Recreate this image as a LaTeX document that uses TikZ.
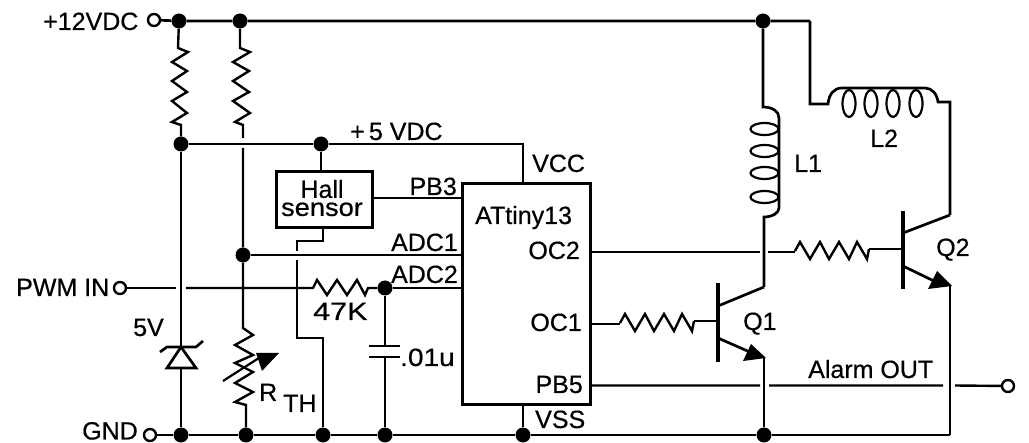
\documentclass[tikz,border=0pt]{standalone}
\usepackage{fontspec}
\usepackage{graphicx}
\setmainfont[FakeBold=0.5]{Liberation Sans}
\tikzset{
  wire/.style={line width=2.7pt,line join=miter},
  thinw/.style={line width=2.4pt,line join=miter},
  dotn/.style={circle,fill=black,inner sep=0pt,minimum size=15pt},
  term/.style={circle,draw=black,line width=2.4pt,fill=white,inner sep=0pt,minimum size=12pt},
  lblw/.style={anchor=base west,inner sep=0pt,font=\fontsize{25}{25}\selectfont},
  lble/.style={anchor=base east,inner sep=0pt,font=\fontsize{25}{25}\selectfont},
  bar/.style={line width=4pt},
  chip/.style={draw=black,line width=2.7pt,fill=none,inner sep=0pt,anchor=north west}
}
\newcommand{\ResH}[1]{\draw[thinw,shift={(#1)}] (0,0) -- (5,-9) -- (15,8) -- (25,-9) -- (34,8) -- (44,-9) -- (54,8) -- (62,-9) -- (72,8) -- (74,-2);}
\newcommand{\Wide}[2]{\scalebox{#1}[1]{#2}}
\begin{document}
\begin{tikzpicture}[x=1pt,y=-1pt]
\useasboundingbox[fill=white] (0,0) rectangle (1029,443);
% terminals
\node[term] (t12) at (154,20) {};
\node[term] (tpwm) at (120,288) {};
\node[term] (tgnd) at (150,435) {};
\node[term] (talarm) at (1008,386) {};
% boxes
\node[chip,minimum width=128pt,minimum height=221pt] (ic) at (461,182) {};
\node[chip,minimum width=96pt,minimum height=56pt] (hall) at (275,170) {};
% junctions
\node[dotn] (d1) at (179,21) {};
\node[dotn] (d2) at (240,21) {};
\node[dotn] (d3) at (763,21) {};
\node[dotn] (d4) at (181,144) {};
\node[dotn] (d5) at (321,144) {};
\node[dotn] (d6) at (243,255) {};
\node[dotn] (d7) at (385,288) {};
\node[dotn] (g1) at (181,435) {};
\node[dotn] (g2) at (246,435) {};
\node[dotn] (g3) at (323,435) {};
\node[dotn] (g4) at (385,435) {};
\node[dotn] (g5) at (523,435) {};
\node[dotn] (g6) at (764,435) {};
% rails
\coordinate (rTopEnd) at (810,21);
\coordinate (rGndEnd) at (950,435);
\coordinate (vcc) at (523,144);
\draw[wire] (t12) -- (d1) -- (d2) -- (d3) -- (rTopEnd);
\draw[wire] (tgnd) -- (g1) -- (g2) -- (g3) -- (g4) -- (g5) -- (g6) -- (rGndEnd);
\draw[wire] (d4) -- (d5) -- (vcc) -- (523,182);
\draw[wire] (523,403) -- (g5);
% R1, R2
\draw[thinw] (d1) -- (178,48) -- (188,52) -- (172,62) -- (187,71) -- (172,81) -- (187,92) -- (172,101) -- (187,113) -- (172,122) -- (181,125) -- (d4);
\draw[thinw] (d2) -- (240,48) -- (250,52) -- (233,62) -- (249,71) -- (233,81) -- (249,92) -- (233,101) -- (250,113) -- (235,122) -- (243,125) -- (243,138);
% thermistor
\draw[thinw] (243,148) -- (d6) -- (243,328) -- (253,335) -- (235,345) -- (253,355) -- (235,363) -- (253,372) -- (235,383) -- (253,392) -- (235,402) -- (246,405) -- (g2);
\draw[line width=2.2pt] (223,381) -- (262,356);
\fill (256,353) -- (279,353) -- (262,371) -- cycle;
% zener
\draw[wire] (d4) -- (181,347) (181,368) -- (g1);
\draw[wire] (181,347) -- (167,368) -- (196,368) -- cycle;
\draw[wire] (160,352) -- (167,347) -- (196,347) -- (203,341);
% PWM line
\coordinate (pg1) at (176,288);
\coordinate (pg2) at (186,288);
\coordinate (rpwm) at (313,288);
\draw[thinw] (tpwm) -- (pg1);
\draw[thinw] (pg2) -- (rpwm) -- (317,280) -- (327,295) -- (337,280) -- (347,295) -- (357,280) -- (365,295) -- (368,288) -- (d7);
% ADC lines
\draw[thinw] (d7) -- (461,288);
\draw[thinw] (d6) -- (461,255);
% capacitor
\draw[wire] (d7) -- (385,346) (385,357) -- (g4);
\draw[wire] (369,346) -- (400,346) (369,357) -- (400,357);
% Hall
\draw[wire] (d5) -- (321,170);
\draw[thinw] (371,198) -- (461,198);
\draw[wire] (323,226) -- (323,241) -- (297,241) -- (297,251);
\draw[wire] (297,260) -- (297,338) -- (323,338) -- (g3);
% L1
\draw[wire] (d3) -- (763,107) .. controls (772,107) and (779,111) .. (779,118) -- (779,208) .. controls (779,213) and (772,217) .. (764,217) -- (764,287);
\foreach \cy in {129,151,173,197}{\draw[line width=2.2pt] (764.5,\cy) ellipse (14pt and 6pt);}
% L2
\draw[wire] (rTopEnd) -- (810,104) -- (828,104) .. controls (829,94) and (834,88) .. (842,88) -- (925,88) .. controls (932,88) and (937,94) .. (938,102) -- (950,102) -- (950,215);
\foreach \cx in {849,871,893,916}{\draw[line width=2.2pt] (\cx,103.5) ellipse (6.5pt and 13.5pt);}
% Q1
\draw[bar] (718,283) -- (718,362);
\draw[wire] (718,306) -- (764,287);
\draw[wire] (718,338) -- (752,353);
\fill (751,344) -- (766,358) -- (743,361) -- cycle;
\draw[wire] (764,357) -- (g6);
\draw[thinw] (589,324) -- (620,324);
\ResH{620,323}
\draw[thinw] (694,321) -- (718,321);
% Q2
\draw[bar] (903,211) -- (903,289);
\draw[wire] (903,233) -- (950,215);
\draw[wire] (903,266) -- (938,283);
\fill (937,271) -- (952,286) -- (928,289) -- cycle;
\draw[wire] (950,286) -- (rGndEnd);
\draw[thinw] (589,252) -- (760,252) (768,252) -- (795,252);
\ResH{795,251}
\draw[thinw] (869,249) -- (903,249);
% Alarm
\draw[thinw] (589,385.5) -- (760,385.5) (769,385.5) -- (943,385.5) (955,385.5) -- (talarm);
% labels
\node[lblw] (l12) at (43,30) {+12VDC};
\node[lblw] (l5) at (350,140) {+\,5 VDC};
\node[anchor=center,inner sep=0pt,align=center,font=\fontsize{25}{18}\selectfont] (lh) at (322,198) {Hall\\[0pt]\Wide{1.09}{sensor}};
\node[lble] (lpb3) at (457,195) {PB3};
\node[lblw] (lvcc) at (532,172) {VCC};
\node[lblw] (lat) at (475,224) {ATtiny13};
\node[lble] (la1) at (458,251) {ADC1};
\node[lble] (la2) at (458,283) {ADC2};
\node[lblw] (lpwm) at (16,296) {PWM IN};
\node[lblw] (l47) at (313,320) {\Wide{1.22}{47K}};
\node[lblw] (l5v) at (133,336) {5V};
\node[lblw] (l01) at (400,366) {\Wide{1.12}{.01u}};
\node[lblw] (lr) at (259,401) {R};
\node[lblw] (lth) at (283,412) {TH};
\node[lble] (lgnd) at (138,439.5) {GND};
\node[lblw] (lq1) at (743,330) {Q1};
\node[lblw] (lq2) at (936,256) {Q2};
\node[lble] (loc2) at (580,259) {OC2};
\node[lble] (loc1) at (582,331) {OC1};
\node[lble] (lpb5) at (583,393) {PB5};
\node[lblw] (lvss) at (535,428) {VSS};
\node[lblw] (lal) at (808,378) {Alarm OUT};
\node[lblw] (ll1) at (794,172) {L1};
\node[lblw] (ll2) at (870,147) {L2};
\end{tikzpicture}
\end{document}
